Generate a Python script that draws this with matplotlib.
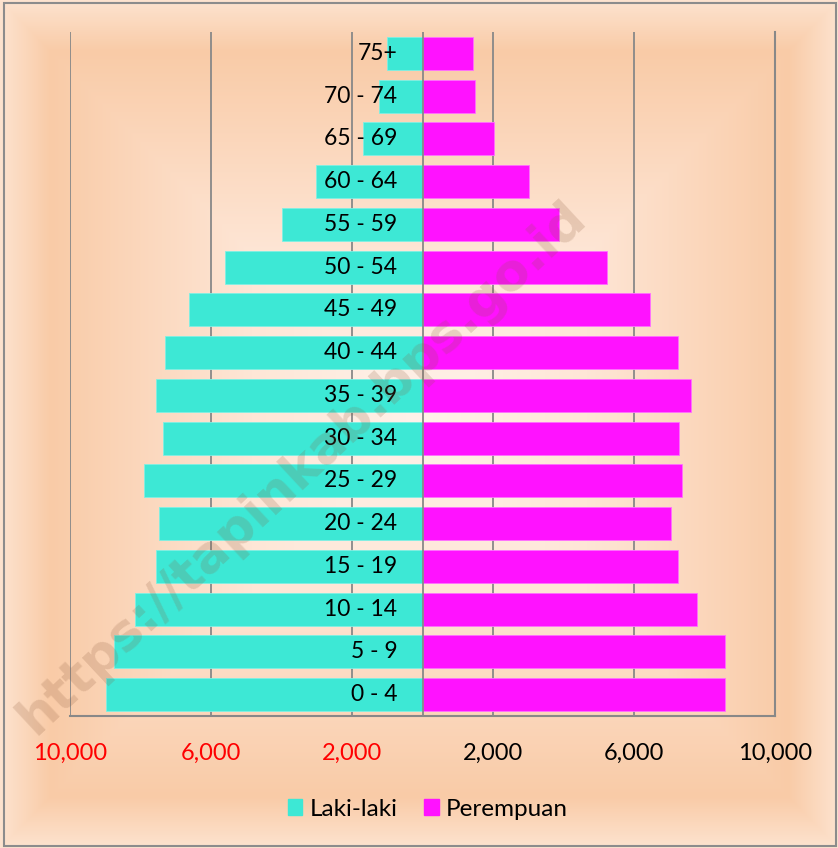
import numpy as np
import matplotlib
matplotlib.use("Agg")
import matplotlib.pyplot as plt
from matplotlib.patches import Patch, Rectangle
from matplotlib.colors import to_rgb
import matplotlib.transforms as mtransforms

# ---- data ----
age_groups = ["0 - 4", "5 - 9", "10 - 14", "15 - 19", "20 - 24", "25 - 29",
              "30 - 34", "35 - 39", "40 - 44", "45 - 49", "50 - 54", "55 - 59",
              "60 - 64", "65 - 69", "70 - 74", "75+"]
laki_laki = [8980, 8750, 8150, 7560, 7470, 7900, 7360, 7565, 7300, 6610,
             5600, 3980, 3020, 1685, 1230, 1000]
perempuan = [8590, 8580, 7775, 7240, 7050, 7360, 7270, 7610, 7240, 6450,
             5220, 3860, 3020, 2020, 1480, 1440]
x_ticks = [-10000, -6000, -2000, 2000, 6000, 10000]
series_names = ["Laki-laki", "Perempuan"]

FONT = ["Lato", "DejaVu Sans"]
plt.rcParams["font.family"] = FONT

W, H = 838, 848
fig = plt.figure(figsize=(W / 100, H / 100), dpi=100)

# ---- gradient background (rectangular path gradient) ----
bg = fig.add_axes([0, 0, 1, 1], zorder=-10)
xs = np.linspace(-1, 1, W)
ys = np.linspace(-1, 1, H)
X, Y = np.meshgrid(xs, ys)
D = np.maximum(np.abs(X), np.abs(Y))
stops = [0.0, 0.4, 0.88, 1.0]
cols = [to_rgb("#FFF2EA"), to_rgb("#FEE6D6"), to_rgb("#F9CBA7"), to_rgb("#FDE3CF")]
img = np.zeros((H, W, 3))
for c in range(3):
    img[..., c] = np.interp(D, stops, [col[c] for col in cols])
bg.imshow(img, aspect="auto", extent=[0, 1, 0, 1], origin="lower")
bg.set_axis_off()
fig.patches.append(Rectangle((3.5 / W, 2.5 / H), 1 - 6 / W, 1 - 5.5 / H,
                             transform=fig.transFigure, fill=False,
                             edgecolor="#8C8C8C", linewidth=1.5))

# ---- main axes ----
ax = fig.add_axes([70 / W, (H - 716) / H, (775 - 70) / W, (716 - 32) / H])
ax.set_facecolor("none")
y = np.arange(len(age_groups))
cyan = "#3DE8D5"
mag = "#FF12FF"
ax.barh(y, -np.array(laki_laki), height=0.77, color=cyan, edgecolor="#7FF0E4",
        linewidth=0.6, zorder=2)
ax.barh(y, perempuan, height=0.77, color=mag, edgecolor="#FF70FF",
        linewidth=0.6, zorder=2)
ax.set_xlim(-10000, 10000)
ax.set_ylim(-0.5, len(age_groups) - 0.5)

grid_c = "#888888"
for xv in x_ticks:
    ax.axvline(xv, color=grid_c, linewidth=1.3, zorder=1)
ax.axvline(0, color=grid_c, linewidth=1.3, zorder=3)

for s in ["top", "left"]:
    ax.spines[s].set_visible(False)
for s in ["bottom", "right"]:
    ax.spines[s].set_color(grid_c)
    ax.spines[s].set_linewidth(1.5)

ax.set_yticks([])
ax.set_xticks(x_ticks)
ax.set_xticklabels([f"{abs(v):,}" for v in x_ticks])
ax.tick_params(axis="x", length=0, pad=19, labelsize=17)
for lbl, v in zip(ax.get_xticklabels(), x_ticks):
    lbl.set_color("#FF0000" if v < 0 else "black")

# category labels next to the zero axis
off = mtransforms.ScaledTranslation(-25 / 100, 0, fig.dpi_scale_trans)
for yi, lab in zip(y, age_groups):
    ax.text(0, yi, lab, ha="right", va="center", fontsize=16.5, color="black",
            transform=ax.transData + off, zorder=4)

# watermark
fig.text(302 / W, 1 - 468 / H, "https://tapinkab.bps.go.id", rotation=43,
         rotation_mode="anchor", ha="center", va="center", fontsize=37,
         fontweight="bold", family=["DejaVu Sans"], color="#8B5A3C",
         alpha=0.2, zorder=20)

# legend
handles = [Patch(facecolor=cyan, edgecolor=cyan), Patch(facecolor=mag, edgecolor=mag)]
fig.legend(handles, series_names, loc="center", bbox_to_anchor=(428 / W, 1 - 809 / H),
           ncol=2, frameon=False, fontsize=17.5, handlelength=0.6,
           handleheight=0.6, handletextpad=0.3, columnspacing=1.1)

fig.savefig("out.png", dpi=100)
